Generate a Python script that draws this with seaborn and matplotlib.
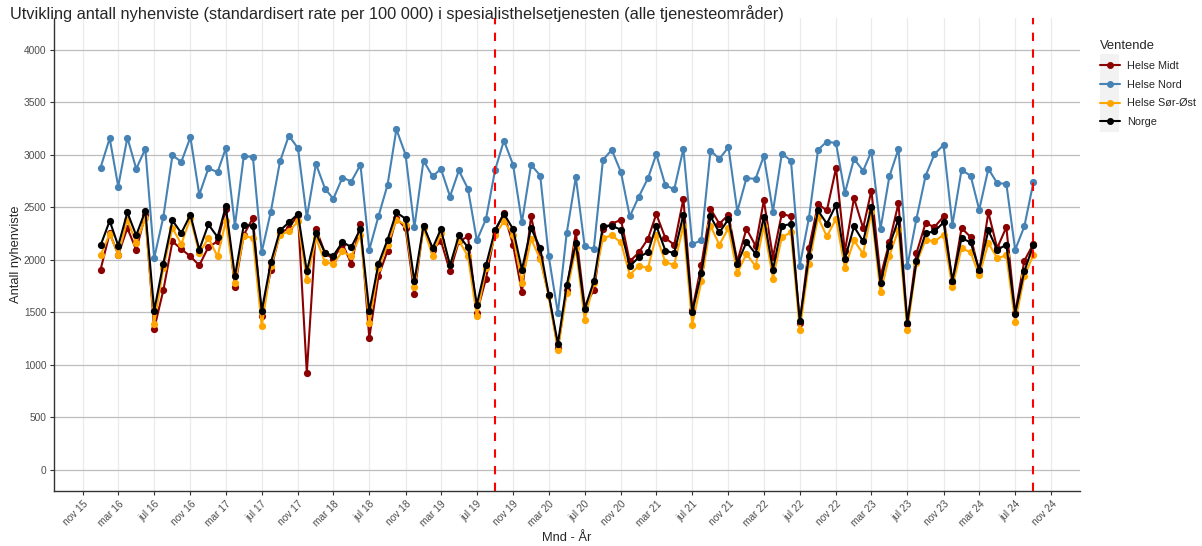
import matplotlib
matplotlib.use('Agg')
import matplotlib.pyplot as plt
import matplotlib.dates as mdates
from matplotlib.lines import Line2D
from matplotlib.patches import Rectangle
import seaborn as sns
import pandas as pd

# Monthly values, Jan 2016 - Sep 2024
months = pd.date_range('2016-01-01', '2024-09-01', freq='MS')

helse_midt = [1905, 2254, 2048, 2302, 2095, 2429, 1343, 1708, 2175, 2102, 2032, 1946, 2121, 2175, 2483, 1740, 2238, 2397, 1460, 1905, 2254, 2302, 2429,
              920, 2295, 2063, 2006, 2152, 1962, 2343, 1254, 1841, 2086, 2397, 2302, 1676, 2324, 2095, 2181, 1889, 2175, 2222, 1492, 1819, 2270, 2444, 2143, 1689,
              2413, 2016, 1667, 1159, 1714, 2260, 1556, 1708, 2292, 2343, 2381, 1984, 2070, 2200, 2435, 2206, 2143, 2581, 1517, 1952, 2486, 2343, 2429, 1984, 2295, 2133,
              2565, 2025, 2438, 2413, 1397, 2111, 2530, 2470, 2873, 2079, 2587, 2302, 2660, 1841, 2165, 2540, 1391, 2063, 2349, 2311, 2413, 1787, 2302, 2216, 1889, 2451, 2111, 2311, 1492, 1990, 2152]
helse_nord = [2879, 3158, 2698, 3165, 2867, 3057, 2016, 2406, 2997, 2933, 3168, 2619, 2873, 2835, 3063, 2324, 2987, 2981, 2073, 2460, 2937, 3184, 3063,
              2403, 2914, 2676, 2581, 2784, 2746, 2905, 2095, 2413, 2714, 3244, 3003, 2308, 2946, 2794, 2867, 2603, 2851, 2676, 2184, 2387, 2857, 3136, 2905, 2356,
              2905, 2803, 2032, 1492, 2254, 2787, 2127, 2105, 2952, 3048, 2835, 2413, 2603, 2778, 3006, 2708, 2673, 3057, 2149, 2184, 3041, 2962, 3073, 2460, 2778, 2771,
              2990, 2460, 3010, 2946, 1943, 2397, 3048, 3127, 3111, 2635, 2962, 2848, 3032, 2292, 2794, 3057, 1937, 2391, 2800, 3006, 3095, 2333, 2857, 2800, 2476, 2867, 2730, 2724, 2095, 2317, 2740]
helse_sor_ost = [2041, 2248, 2048, 2381, 2159, 2397, 1391, 1921, 2302, 2149, 2397, 2063, 2206, 2032, 2365, 1778, 2229, 2206, 1365, 1937, 2238, 2270, 2365,
                 1810, 2206, 1975, 1962, 2079, 2032, 2238, 1397, 1921, 2143, 2381, 2333, 1740, 2302, 2038, 2254, 1952, 2184, 2032, 1460, 1921, 2238, 2365, 2238, 1778,
                 2200, 2006, 1651, 1143, 1683, 2111, 1429, 1778, 2206, 2232, 2165, 1857, 1943, 1921, 2232, 1975, 1952, 2324, 1381, 1794, 2324, 2143, 2302, 1873, 2057, 1937,
                 2324, 1819, 2216, 2260, 1333, 1962, 2403, 2222, 2390, 1921, 2184, 2057, 2451, 1689, 2038, 2286, 1327, 1968, 2191, 2175, 2238, 1740, 2111, 2070, 1851, 2159, 2016, 2041, 1406, 1841, 2048]
norge = [2136, 2371, 2133, 2451, 2232, 2467, 1514, 1962, 2375, 2254, 2429, 2095, 2337, 2216, 2508, 1841, 2330, 2324, 1514, 1975, 2279, 2356, 2435,
         1889, 2254, 2063, 2038, 2168, 2121, 2295, 1508, 1959, 2191, 2451, 2391, 1794, 2324, 2111, 2292, 1946, 2232, 2117, 1571, 1946, 2286, 2438, 2292, 1905,
         2302, 2111, 1667, 1200, 1756, 2159, 1530, 1794, 2324, 2324, 2286, 1937, 2025, 2073, 2324, 2086, 2063, 2429, 1498, 1873, 2413, 2260, 2387, 1962, 2168, 2057,
         2406, 1905, 2324, 2340, 1413, 2032, 2470, 2343, 2524, 2006, 2317, 2175, 2502, 1778, 2133, 2387, 1397, 1984, 2254, 2270, 2356, 1800, 2206, 2165, 1905, 2279, 2095, 2143, 1486, 1889, 2143]

regions = ['Helse Midt', 'Helse Nord', 'Helse Sør-Øst', 'Norge']
colors = ['#8B0000', '#4682B4', '#FFA500', '#000000']
cutoff_dates = ['2019-09-01', '2024-09-01']
month_names = ['jan', 'feb', 'mar', 'apr', 'mai', 'jun', 'jul', 'aug', 'sep', 'okt', 'nov', 'des']

df = pd.DataFrame({'Mnd': list(months) * 4,
                   'Ventende': [r for r in regions for _ in months],
                   'Antall': helse_midt + helse_nord + helse_sor_ost + norge})

sns.set_theme(style='white')
plt.rcParams['font.family'] = ['Liberation Sans', 'DejaVu Sans']

W, H = 1202, 546
fig = plt.figure(figsize=(W / 100, H / 100), dpi=100)
ax = fig.add_axes([54 / W, 55 / H, (1080 - 54) / W, (491 - 18) / H])

palette = dict(zip(regions, colors))
sns.lineplot(data=df, x='Mnd', y='Antall', hue='Ventende', hue_order=regions, palette=palette,
             marker='o', markersize=5.2, markeredgewidth=0, linewidth=1.5, legend=False, ax=ax)

for d in cutoff_dates:
    ax.axvline(pd.Timestamp(d), color='red', linestyle=(0, (4, 4)), linewidth=1.5, zorder=5)

ax.set_ylim(-205, 4305)
ax.set_yticks(range(0, 4001, 500))
ax.set_xlim(pd.Timestamp('2015-07-27'), pd.Timestamp('2025-02-06'))
ax.xaxis.set_major_locator(mdates.MonthLocator(bymonth=[3, 7, 11]))
ax.xaxis.set_major_formatter(plt.FuncFormatter(
    lambda v, p: f"{month_names[mdates.num2date(v).month - 1]} {mdates.num2date(v).year % 100:02d}"))

ax.grid(axis='y', color='#bdbdbd', linewidth=0.9)
ax.grid(axis='x', color='#ebebeb', linewidth=0.9)
ax.set_axisbelow(True)
for s in ['top', 'right']:
    ax.spines[s].set_visible(False)
for s in ['left', 'bottom']:
    ax.spines[s].set_color('#333333')
    ax.spines[s].set_linewidth(1.0)
ax.tick_params(axis='both', labelsize=7.3, labelcolor='#4d4d4d', color='#333333',
               length=3, width=0.8, direction='out', left=True, bottom=True, pad=2.5)
plt.setp(ax.get_xticklabels(), rotation=45, ha='right', rotation_mode='anchor')

ax.set_xlabel('Mnd - År', fontsize=9.3, va='center')
ax.xaxis.set_label_coords(0.5, -(538 - 491) / 473)
ax.set_ylabel('Antall nyhenviste', fontsize=9.3, va='center')
ax.yaxis.set_label_coords(-(54 - 16) / 1026, 0.5)
fig.text(10 / W, 1 - 14 / H, 'Utvikling antall nyhenviste (standardisert rate per 100 000) i spesialisthelsetjenesten (alle tjenesteområder)',
         fontsize=11.75, va='center', ha='left')

# legend
fig.patches.append(Rectangle((1100 / W, 1 - 132 / H), 19 / W, 78 / H, transform=fig.transFigure,
                             facecolor='#f2f2f2', edgecolor='none', zorder=0))
handles = [Line2D([], [], color=c, marker='o', markersize=4, linewidth=1.5) for c in colors]
leg = fig.legend(handles, regions, title='Ventende', loc='upper left',
                 bbox_to_anchor=(1090 / W, 1 - 30 / H), frameon=False, fontsize=7.8,
                 title_fontsize=9.4, handlelength=1.9, handletextpad=0.6, labelspacing=0.82,
                 alignment='left')

fig.savefig('out.png', dpi=100)
